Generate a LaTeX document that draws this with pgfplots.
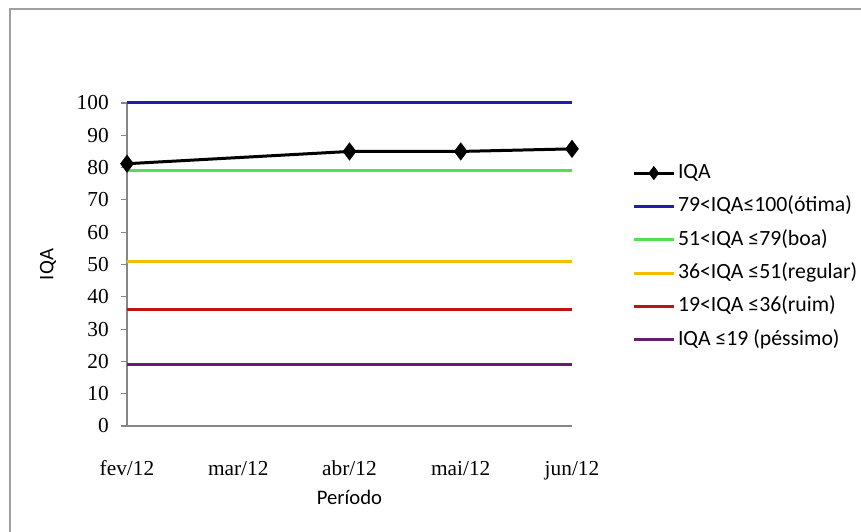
\documentclass[border=0pt]{standalone}
\usepackage{pgfplots}
\pgfplotsset{compat=1.18}
\usepackage{fontspec}
\newfontfamily\calibri{Carlito}
\newfontfamily\cambria{Liberation Serif}
\definecolor{cblue}{RGB}{30,30,170}
\definecolor{cgreen}{RGB}{80,224,80}
\definecolor{cyellow}{RGB}{240,192,0}
\definecolor{cred}{RGB}{190,20,20}
\definecolor{cpurple}{RGB}{100,30,110}
\definecolor{framegray}{RGB}{160,160,160}
\definecolor{axgray}{RGB}{134,134,134}
\begin{document}
\begin{tikzpicture}
\useasboundingbox (0,0) rectangle (645.75pt,399pt);
\draw[color=framegray, line width=1.1pt] (7.5pt,0pt) -- (7.5pt,392.25pt) -- (645.75pt,392.25pt);
\begin{axis}[
  at={(95.25pt,79.5pt)}, anchor=south west,
  scale only axis, width=333.75pt, height=242.25pt,
  xmin=0, xmax=4, ymin=0, ymax=100,
  xtick={0,1,2,3,4},
  xticklabels={fev/12,mar/12,abr/12,mai/12,jun/12},
  ytick={0,10,...,100},
  /pgf/number format/assume math mode=true,
  axis x line*=bottom, axis y line*=left,
  axis line style={draw=axgray, line width=0.8pt, -},
  xtick style={draw=none},
  ytick style={draw=axgray, line width=0.8pt},
  tick align=outside, major tick length=4.5pt,
  ticklabel style={font=\cambria\fontsize{16}{18}\selectfont},
  xticklabel style={anchor=base, yshift=-33pt},
  yticklabel style={anchor=east, inner sep=0pt, xshift=-9pt},
  xlabel={Período}, ylabel={IQA},
  every axis x label/.style={at={(axis description cs:0.5,-0.22)}, anchor=center, font=\calibri\fontsize{15.5}{18}\selectfont},
  every axis y label/.style={at={(axis description cs:-0.1775,0.5)}, anchor=center, rotate=90, font=\calibri\fontsize{15.5}{18}\selectfont},
  clip=false,
  legend style={at={(axis description cs:1.135,0.525)}, anchor=west, draw=none, fill=none,
    inner sep=0pt, row sep=11pt, column sep=2pt,
    font=\calibri\fontsize{16.3}{18}\selectfont,
    nodes={inner sep=0pt, text height=11pt, text depth=3pt}},
  legend cell align=left,
  legend image code/.code={\draw[mark repeat=2,mark phase=2,#1] plot coordinates {(0pt,0pt) (15pt,0pt) (30pt,0pt)};},
]
\addlegendimage{black, line width=2.25pt, mark=diamond*, mark size=3.5pt, mark options={solid}}
\addlegendentry{IQA}
\addplot[cblue, line width=2.25pt, no marks] coordinates {(0,100) (1,100) (2,100) (3,100) (4,100)};
\addlegendentry{79<IQA≤100(ótima)}
\addplot[cgreen, line width=2.25pt, no marks] coordinates {(0,79) (1,79) (2,79) (3,79) (4,79)};
\addlegendentry{51<IQA ≤79(boa)}
\addplot[cyellow, line width=2.25pt, no marks] coordinates {(0,51) (1,51) (2,51) (3,51) (4,51)};
\addlegendentry{36<IQA ≤51(regular)}
\addplot[cred, line width=2.25pt, no marks] coordinates {(0,36) (1,36) (2,36) (3,36) (4,36)};
\addlegendentry{19<IQA ≤36(ruim)}
\addplot[cpurple, line width=2.25pt, no marks] coordinates {(0,19) (1,19) (2,19) (3,19) (4,19)};
\addlegendentry{IQA ≤19 (péssimo)}
\addplot[black, line width=2.25pt, mark=diamond*, mark size=5pt, forget plot] coordinates {(0,81.2) (2,85) (3,85) (4,85.8)};
\end{axis}
\end{tikzpicture}
\end{document}
